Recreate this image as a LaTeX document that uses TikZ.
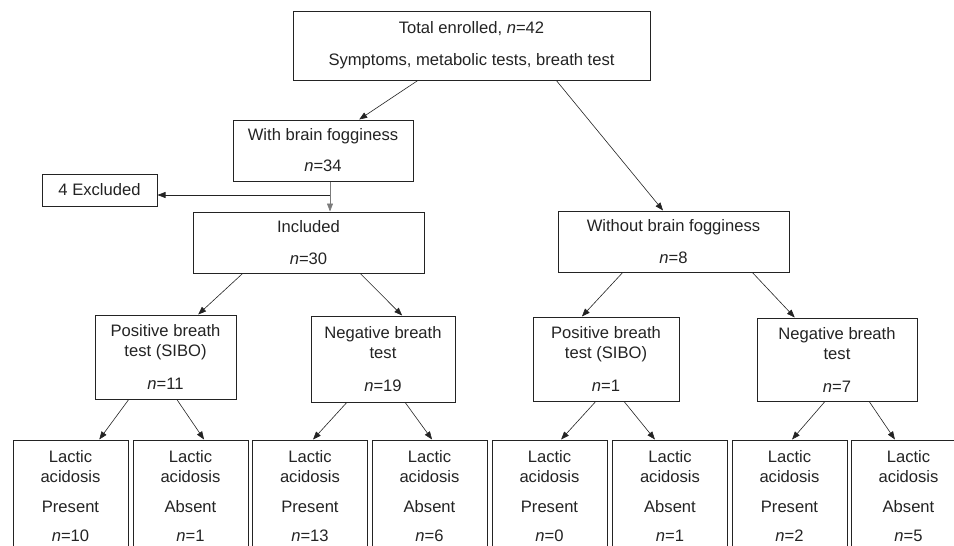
\documentclass[tikz,border=0pt]{standalone}
\usepackage{fontspec}
\setmainfont{Liberation Sans}
\usepackage{tikz}
\usetikzlibrary{arrows.meta, positioning, calc}
\definecolor{flowgray}{RGB}{35, 35, 35}

\begin{document}
\begin{tikzpicture}[
  x=1pt, y=-1pt,
  every node/.style={font=\fontsize{16.6}{20}\selectfont, text=flowgray},
  box/.style={
    draw=flowgray, line width=1pt, align=center, inner sep=0pt
  },
  leaf/.style={
    box, minimum width=115pt, minimum height=112pt
  },
  arrow/.style={-{Triangle[length=8pt, width=6pt]}, line width=0.6pt, color=flowgray}
]
  \clip (0,0) rectangle (954,546);

  % Livello superiore
  \node[box, minimum width=357pt, minimum height=69pt] (total) at (471.5,45.5)
    {Total enrolled, \textit{n}=42\\[12pt] Symptoms, metabolic tests, breath test};
  \node[box, minimum width=180pt, minimum height=61pt] (fog) at (323,150.5)
    {With brain fogginess\\[11pt] \textit{n}=34};
  \node[box, minimum width=231pt, minimum height=61pt] (nofog) at (673.5,241.5)
    {Without brain fogginess\\[12pt] \textit{n}=8};
  \node[box, minimum width=115pt, minimum height=32pt] (excl) at (99.5,190)
    {4 Excluded};
  \node[box, minimum width=231pt, minimum height=61pt] (incl) at (308.5,242.5)
    {Included\\[12pt] \textit{n}=30};

  % Breath test
  \node[box, minimum width=141pt, minimum height=84pt] (posL) at (165.5,357)
    {Positive breath\\test (SIBO)\\[13pt] \textit{n}=11};
  \node[box, minimum width=144pt, minimum height=86pt] (negL) at (383,359)
    {Negative breath\\test\\[13pt] \textit{n}=19};
  \node[box, minimum width=146pt, minimum height=84pt] (posR) at (606,359)
    {Positive breath\\test (SIBO)\\[13pt] \textit{n}=1};
  \node[box, minimum width=160pt, minimum height=83pt] (negR) at (837,359.5)
    {Negative breath\\test\\[13pt] \textit{n}=7};

  % Lactic acidosis (riga in basso)
  \node[leaf] (la1) at (70.5,496) {Lactic\\acidosis\\[10pt] Present\\[9pt] \textit{n}=10};
  \node[leaf] (la2) at (190.5,496) {Lactic\\acidosis\\[10pt] Absent\\[9pt] \textit{n}=1};
  \node[leaf] (la3) at (310,496) {Lactic\\acidosis\\[10pt] Present\\[9pt] \textit{n}=13};
  \node[leaf] (la4) at (429.5,496) {Lactic\\acidosis\\[10pt] Absent\\[9pt] \textit{n}=6};
  \node[leaf] (la5) at (549.5,496) {Lactic\\acidosis\\[10pt] Present\\[9pt] \textit{n}=0};
  \node[leaf] (la6) at (670,496) {Lactic\\acidosis\\[10pt] Absent\\[9pt] \textit{n}=1};
  \node[leaf] (la7) at (789.5,496) {Lactic\\acidosis\\[10pt] Present\\[9pt] \textit{n}=2};
  \node[leaf] (la8) at (908.5,496) {Lactic\\acidosis\\[10pt] Absent\\[9pt] \textit{n}=5};

  % Frecce dal totale
  \draw[arrow] ($(total.south west)!0.35!(total.south east)$) -- ($(fog.north west)!0.70!(fog.north east)$);
  \draw[arrow] ($(total.south west)!0.737!(total.south east)$) -- ($(nofog.north west)!0.455!(nofog.north east)$);

  % Esclusi / inclusi
  \coordinate (split) at (330,195);
  \draw[arrow, color=flowgray!60] (fog.south -| split) -- (incl.north -| split);
  \draw[arrow] (split) -- (split -| excl.east);

  % Frecce verso i breath test
  \draw[arrow] ($(incl.south west)!0.216!(incl.south east)$) -- ($(posL.north west)!0.73!(posL.north east)$);
  \draw[arrow] ($(incl.south west)!0.723!(incl.south east)$) -- ($(negL.north west)!0.632!(negL.north east)$);
  \draw[arrow] ($(nofog.south west)!0.281!(nofog.south east)$) -- ($(posR.north west)!0.336!(posR.north east)$);
  \draw[arrow] ($(nofog.south west)!0.84!(nofog.south east)$) -- ($(negR.north west)!0.2375!(negR.north east)$);

  % Frecce verso lactic acidosis
  \foreach \src/\a/\dst/\b in {posL/0.241/la1/0.748, posL/0.58/la2/0.617,
                               negL/0.25/la3/0.526, negL/0.653/la4/0.522,
                               posR/0.43/la5/0.60, posR/0.623/la6/0.37,
                               negR/0.425/la7/0.522, negR/0.70/la8/0.383}
    \draw[arrow] ($(\src.south west)!\a!(\src.south east)$) -- ($(\dst.north west)!\b!(\dst.north east)$);

\end{tikzpicture}
\end{document}
